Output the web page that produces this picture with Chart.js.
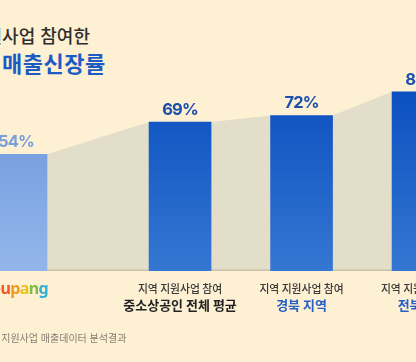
<!DOCTYPE html>
<html lang="ko">
<head>
<meta charset="utf-8">
<script src="https://cdn.jsdelivr.net/npm/chart.js@4.4.1/dist/chart.umd.min.js"></script>
<style>
  html, body { margin: 0; padding: 0; }
  body {
    width: 416px; height: 362px; overflow: hidden; position: relative;
    background: #fdf0d3;
    font-family: "Noto Sans CJK KR", "Noto Sans", sans-serif;
  }
  #chart { position: absolute; left: -70px; top: 0; }
  .t1 { position: absolute; left: -31px; top: 25px; font-size: 18px; line-height: 20px; color: #2e2e2e; font-weight: 500; white-space: nowrap; }
  .t2 { position: absolute; left: 2px; top: 50px; font-size: 22px; line-height: 25px; letter-spacing: 0.5px; color: #1c5ac4; font-weight: 700; white-space: nowrap; }
  .note { position: absolute; left: -20px; top: 332px; font-size: 10px; line-height: 12px; color: #857d72; white-space: nowrap; }
</style>
</head>
<body>
<div class="t1">지원사업 참여한</div>
<div class="t2">매출신장률</div>
<canvas id="chart" width="560" height="362"></canvas>
<div class="note">지역 지원사업 매출데이터 분석결과</div>
<script>
// data
const brand = 'coupang';
const topLabels = ['', '지역 지원사업 참여', '지역 지원사업 참여', '지역 지원사업 참여'];
const bottomLabels = ['', '중소상공인 전체 평균', '경북 지역', '전북 지역'];
const values = [54, 69, 72, 83];

// the first bar sits a little further from the rest
const leadGap = 0.35;
const xSlots = values.map((v, i) => (i === 0 ? 0 : i + leadGap));

const brandColors = ['#7a2b1c', '#e3342b', '#ee5a24', '#f39a1e', '#e9c21f', '#7fbf3f', '#2fb0d6'];
const bottomColors = ['#222222', '#222222', '#2760c6', '#2760c6'];

function barFill(ctx) {
    const chart = ctx.chart;
    const area = chart.chartArea;
    if (!area) return '#1a5cc6';
    const g = chart.ctx.createLinearGradient(0, chart.scales.y.getPixelForValue(85), 0, area.bottom);
    if (ctx.dataIndex === 0) {
        g.addColorStop(0, '#6a96dc');
        g.addColorStop(1, '#93b5ea');
    } else {
        g.addColorStop(0, '#0a4fc0');
        g.addColorStop(1, '#3577d2');
    }
    return g;
}

// beige areas joining the tops of neighbouring bars
const bridges = {
    id: 'bridges',
    beforeDatasetsDraw(chart) {
        const bars = chart.getDatasetMeta(0).data;
        const base = chart.scales.y.getPixelForValue(0);
        const c = chart.ctx;
        c.save();
        for (let i = 0; i < bars.length - 1; i++) {
            const a = bars[i], b = bars[i + 1];
            const ax = a.x + a.width / 2, bx = b.x - b.width / 2;
            c.beginPath();
            c.moveTo(ax, a.y);
            c.lineTo(bx, b.y);
            c.lineTo(bx, base);
            c.lineTo(ax, base);
            c.closePath();
            c.fillStyle = '#e2dec9';
            c.fill();
            c.fillStyle = '#c9c2aa';
            c.fillRect(ax, base - 1.5, bx - ax, 1.5);
        }
        c.restore();
    }
};

const valueLabels = {
    id: 'valueLabels',
    afterDatasetsDraw(chart) {
        const bars = chart.getDatasetMeta(0).data;
        const c = chart.ctx;
        c.save();
        c.font = '700 16.5px Inter, "Noto Sans", sans-serif';
        c.letterSpacing = '-0.8px';
        c.textAlign = 'center';
        c.textBaseline = 'alphabetic';
        bars.forEach((bar, i) => {
            c.fillStyle = i === 0 ? '#7a9fdc' : '#1b4fae';
            c.fillText(values[i] + '%', bar.x, bar.y - 7);
        });
        c.restore();
    }
};

// multicoloured brand name under the first bar
const brandTick = {
    id: 'brandTick',
    afterDraw(chart) {
        const c = chart.ctx;
        const cx = chart.scales.x.getPixelForValue(xSlots[0]);
        c.save();
        c.font = '700 16px "Noto Sans", sans-serif';
        c.textBaseline = 'middle';
        const gap = -0.6;
        const widths = brand.split('').map(ch => c.measureText(ch).width);
        const total = widths.reduce((s, w) => s + w, 0) + gap * (brand.length - 1);
        let x = cx - total / 2;
        brand.split('').forEach((ch, i) => {
            c.fillStyle = brandColors[i];
            c.fillText(ch, x, 289);
            x += widths[i] + gap;
        });
        c.restore();
    }
};

const xRange = { min: -0.708, max: 3.901 };

new Chart(document.getElementById('chart'), {
    type: 'bar',
    data: {
        datasets: [{
            data: values.map((v, i) => ({ x: xSlots[i], y: v })),
            backgroundColor: barFill,
            barThickness: 62,
            borderWidth: 0
        }]
    },
    options: {
        responsive: false,
        animation: false,
        layout: { padding: { top: 55, bottom: 45, left: 0, right: 0 } },
        plugins: { legend: { display: false }, tooltip: { enabled: false } },
        scales: {
            x: {
                type: 'linear',
                min: xRange.min,
                max: xRange.max,
                offset: false,
                grid: { display: false, drawTicks: false, offset: false },
                border: { display: false },
                afterBuildTicks: s => { s.ticks = xSlots.map(v => ({ value: v })); },
                afterFit: s => { s.height = 26; },
                ticks: {
                    autoSkip: false,
                    maxRotation: 0,
                    padding: 11.5,
                    color: '#3a3a3a',
                    font: { family: '"Noto Sans CJK KR"', size: 10.8, weight: 500 },
                    callback: (v, i) => topLabels[i]
                }
            },
            x2: {
                type: 'linear',
                axis: 'x',
                position: 'bottom',
                min: xRange.min,
                max: xRange.max,
                offset: false,
                grid: { display: false, drawTicks: false, offset: false },
                border: { display: false },
                afterBuildTicks: s => { s.ticks = xSlots.map(v => ({ value: v })); },
                afterFit: s => { s.height = 20; },
                ticks: {
                    autoSkip: false,
                    maxRotation: 0,
                    padding: 0,
                    color: ctx => bottomColors[ctx.index],
                    font: { family: '"Noto Sans CJK KR"', size: 13, weight: 700 },
                    callback: (v, i) => bottomLabels[i]
                }
            },
            y: { display: false, min: 0, max: 100 }
        }
    },
    plugins: [bridges, valueLabels, brandTick]
});
</script>
</body>
</html>
